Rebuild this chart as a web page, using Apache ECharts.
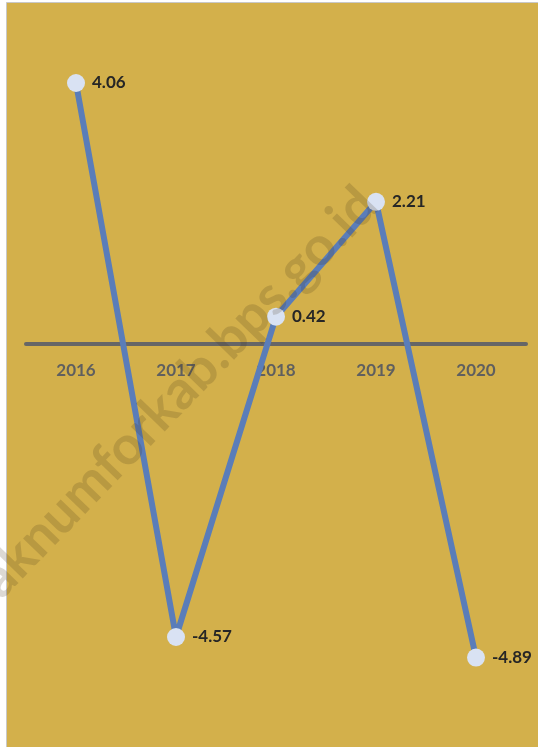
<!DOCTYPE html>
<html>
<head>
<meta charset="utf-8">
<script src="https://cdn.jsdelivr.net/npm/echarts@6/dist/echarts.min.js"></script>
<style>
  html, body { margin: 0; padding: 0; background: #ffffff; }
  #chart { width: 538px; height: 747px; }
</style>
</head>
<body>
<div id="chart"></div>
<script>
// Yearly values plotted along the category axis
const years = ['2016', '2017', '2018', '2019', '2020'];
const values = [4.06, -4.57, 0.42, 2.21, -4.89];
const watermarkText = 'biaknumforkab.bps.go.id';

// Value range of the hidden y axis and the plot area edges
const yMin = -6, yMax = 5;
const gridTop = 22.66, gridBottom = 18.2, chartHeight = 747;
// Distance from the bottom of the plot area up to the zero line
const plotHeight = chartHeight - gridTop - gridBottom;
const zeroOffset = plotHeight * (0 - yMin) / (yMax - yMin);

const chart = echarts.init(document.getElementById('chart'), null, { renderer: 'canvas' });

const option = {
  backgroundColor: '#ffffff',
  animation: false,
  graphic: [
    {
      type: 'rect',
      z: -10,
      silent: true,
      shape: { x: 6.5, y: 2.5, width: 560, height: 780 },
      style: { fill: '#D3B04B', stroke: '#C8C8C8', lineWidth: 1 }
    },
    {
      type: 'text',
      z: 100,
      silent: true,
      x: 368,
      y: 196,
      rotation: 46 * Math.PI / 180,
      style: {
        text: watermarkText,
        fill: 'rgba(70,55,25,0.19)',
        font: 'bold 54px Lato',
        textAlign: 'right',
        textVerticalAlign: 'middle'
      }
    }
  ],
  grid: { left: 26, right: 12, top: gridTop, bottom: gridBottom, outerBoundsMode: 'none', containLabel: false },
  xAxis: {
    type: 'category',
    data: years,
    boundaryGap: true,
    position: 'bottom',
    offset: -zeroOffset,
    axisLine: { onZero: false, lineStyle: { color: '#666666', width: 4 } },
    axisTick: { show: false },
    axisLabel: {
      margin: 18,
      color: '#5F5F5F',
      fontFamily: 'Lato',
      fontWeight: 'bold',
      fontSize: 17
    },
    splitLine: { show: false }
  },
  yAxis: {
    type: 'value',
    min: yMin,
    max: yMax,
    show: false,
    splitLine: { show: false }
  },
  series: [
    {
      type: 'line',
      data: values,
      symbol: 'circle',
      symbolSize: 18,
      lineStyle: { color: '#5A7DB9', width: 6 },
      itemStyle: { color: '#D9E2F3', borderWidth: 0 },
      label: {
        show: true,
        position: 'right',
        distance: 7,
        color: '#262626',
        fontFamily: 'Lato',
        fontWeight: 'bold',
        fontSize: 17,
        formatter: p => p.value.toFixed(2)
      },
      z: 5
    }
  ]
};

chart.setOption(option);
</script>
</body>
</html>
